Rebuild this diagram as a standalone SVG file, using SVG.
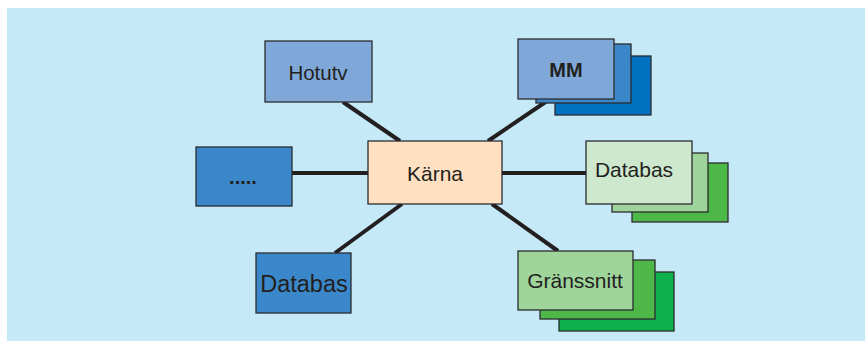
<svg xmlns="http://www.w3.org/2000/svg" width="865" height="341" viewBox="0 0 865 341">
  <style>
    .box { stroke: #2b2b2e; stroke-width: 1.3; }
    .lbl { font-family: "Liberation Sans", Arial, sans-serif; fill: #231f20; text-anchor: middle; }
    .link { stroke: #231f20; stroke-width: 4; stroke-linecap: butt; fill: none; }
  </style>
  <!-- panel background -->
  <rect x="7" y="8" width="858" height="333" fill="#c6e9f8"/>

  <!-- connectors from the core to each module -->
  <g id="connectors">
    <line class="link" x1="400" y1="141" x2="343" y2="102"/>
    <line class="link" x1="488" y1="141" x2="550" y2="99"/>
    <line class="link" x1="292" y1="173" x2="368" y2="173"/>
    <line class="link" x1="502" y1="173" x2="586" y2="173"/>
    <line class="link" x1="402" y1="204" x2="335" y2="253"/>
    <line class="link" x1="492" y1="204" x2="558" y2="251"/>
  </g>

  <g id="karna">
    <rect class="box" x="368" y="141" width="134" height="63" fill="#ffe0c0"/>
    <text class="lbl" x="435" y="181" font-size="21">Kärna</text>
  </g>

  <g id="hotutv">
    <rect class="box" x="265" y="41" width="107" height="61" fill="#7fa8d9"/>
    <text class="lbl" x="318" y="80" font-size="20.5">Hotutv</text>
  </g>

  <g id="mm">
    <rect class="box" x="555" y="56" width="96" height="59" fill="#0070c0"/>
    <rect class="box" x="536" y="44" width="95" height="59" fill="#3a88c9"/>
    <rect class="box" x="518" y="39" width="96" height="60" fill="#7fa8d9"/>
    <text class="lbl" x="566" y="77" font-size="20" font-weight="bold">MM</text>
  </g>

  <g id="ovrigt">
    <rect class="box" x="196" y="147" width="96" height="59" fill="#3a88c9"/>
    <text class="lbl" x="243" y="184" font-size="20" font-weight="bold">.....</text>
  </g>

  <g id="databas-hoger">
    <rect class="box" x="632" y="163" width="96" height="59" fill="#4db748"/>
    <rect class="box" x="612" y="153" width="96" height="59" fill="#9ed49b"/>
    <rect class="box" x="586" y="141" width="106" height="63" fill="#cde8cc"/>
    <text class="lbl" x="634" y="177" font-size="21">Databas</text>
  </g>

  <g id="databas-vanster">
    <rect class="box" x="256" y="253" width="95" height="60" fill="#3a88c9"/>
    <text class="lbl" x="304" y="292" font-size="23.5">Databas</text>
  </g>

  <g id="granssnitt">
    <rect class="box" x="559" y="272" width="115" height="59" fill="#0db04b"/>
    <rect class="box" x="540" y="260" width="115" height="59" fill="#4db748"/>
    <rect class="box" x="518" y="251" width="115" height="59" fill="#9fd49b"/>
    <text class="lbl" x="575" y="288" font-size="21">Gränssnitt</text>
  </g>
</svg>
